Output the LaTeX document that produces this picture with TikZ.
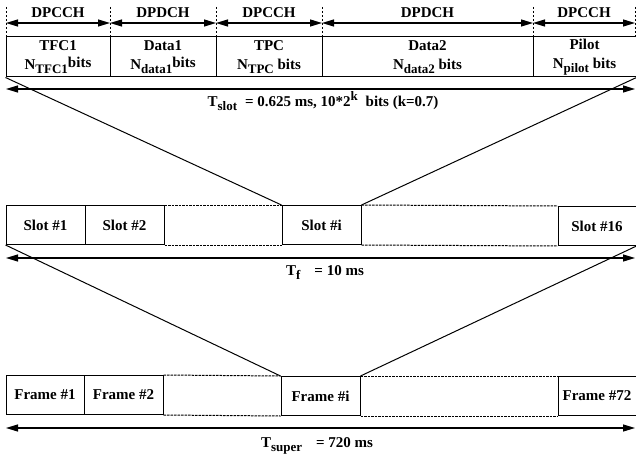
\documentclass[tikz,border=0pt]{standalone}
\usepackage{fontspec}
\setmainfont{Liberation Serif}
\usetikzlibrary{arrows.meta}

\newcommand{\lo}[1]{\raisebox{-4pt}{\fontsize{13}{13}\selectfont #1}}
\newcommand{\hi}[1]{\raisebox{6pt}{\fontsize{13}{13}\selectfont #1}}

\begin{document}
\begin{tikzpicture}[x=1pt, y=-1pt,
  every node/.style={font=\fontsize{15}{19}\selectfont\bfseries},
  field/.style={draw, line width=1pt, minimum height=40pt, inner sep=0pt, align=center},
  unit/.style={draw, line width=1pt, minimum height=39pt, inner sep=0pt},
  gap/.style={line width=1pt, dash pattern=on 2.5pt off 1pt},
  sep/.style={line width=0.6pt, dash pattern=on 2pt off 2pt},
  span/.style={{Triangle[length=12pt,width=7pt]}-{Triangle[length=12pt,width=7pt]}, line width=1.2pt},
  zoom/.style={line width=1pt}]
  \useasboundingbox (0,0) rectangle (636,457);

  % Slot fields
  \node[field, minimum width=104pt] (f1) at (58,57)    {TFC1\\N\lo{TFC1}\raisebox{2pt}{bits}};
  \node[field, minimum width=106pt] (f2) at (163,57)   {Data1\\N\lo{data1}\raisebox{2pt}{bits}};
  \node[field, minimum width=106pt] (f3) at (269,57)   {TPC\\N\lo{TPC} bits};
  \node[field, minimum width=211pt] (f4) at (427.5,57) {Data2\\N\lo{data2} bits};
  \node[field, minimum width=103pt] (f5) at (584.5,57) {Pilot\\N\lo{pilot} bits};

  % Channel markers above the fields
  \foreach \x [count=\i from 0] in {6,110,216,322,533,635} {
    \coordinate (h\i) at (\x,23);
    \draw[sep] (h\i) ++(0,-16) -- ++(0,30);
  }
  \draw[span] (h0) -- node[above=1pt] {DPCCH} (h1);
  \draw[span] (h1) -- node[above=1pt] {DPDCH} (h2);
  \draw[span] (h2) -- node[above=1pt] {DPCCH} (h3);
  \draw[span] (h3) -- node[above=1pt] {DPDCH} (h4);
  \draw[span] (h4) -- node[above=1pt] {DPCCH} (h5);

  % Slot duration
  \coordinate (ts0) at (6,89);
  \coordinate (ts1) at (635,89);
  \draw[span] (ts0) -- (ts1);
  \node (tslot) at (323,101) {T\lo{slot}\hspace{8pt}= 0.625 ms, 10*2\hi{k}\hspace{4pt} bits (k=0.7)};

  % Slots of one frame
  \node[unit, minimum width=79pt] (s1)  at (45.5,225)  {Slot \#1};
  \node[unit, minimum width=79pt] (s2)  at (124.5,225) {Slot \#2};
  \node[unit, minimum width=79pt] (si)  at (321.5,225) {Slot \#i};
  \node[unit, minimum width=78pt] (s16) at (597,226)   {Slot \#16};

  % Frame duration
  \coordinate (tf0) at (6,258);
  \coordinate (tf1) at (635,258);
  \draw[span] (tf0) -- (tf1);
  \node (tf) at (325,273) {T\lo{f}\hspace{14pt}= 10 ms};

  % Frames of one super frame
  \node[unit, minimum width=78pt] (fr1)  at (45,395)    {Frame \#1};
  \node[unit, minimum width=79pt] (fr2)  at (123.5,395) {Frame \#2};
  \node[unit, minimum width=79pt] (fri)  at (320.5,396) {Frame \#i};
  \node[unit, minimum width=78pt] (fr72) at (597,396)   {Frame \#72};

  % Super frame duration
  \coordinate (tu0) at (6,428);
  \coordinate (tu1) at (635,428);
  \draw[span] (tu0) -- (tu1);
  \node (tsuper) at (317,446) {T\lo{super}\hspace{14pt}= 720 ms};

  % Omitted slots and frames
  \foreach \a/\b in {s2/si, si/s16, fr2/fri, fri/fr72} {
    \draw[gap] (\a.north east) -- (\b.north west);
    \draw[gap] (\a.south east) -- (\b.south west);
  }

  % Expansion lines
  \draw[zoom] (f1.south west) -- (si.north west);
  \draw[zoom] (f5.south east) -- (si.north east);
  \draw[zoom] (s1.south west) -- (fri.north west);
  \draw[zoom] (s16.south east) -- (fri.north east);
\end{tikzpicture}
\end{document}
